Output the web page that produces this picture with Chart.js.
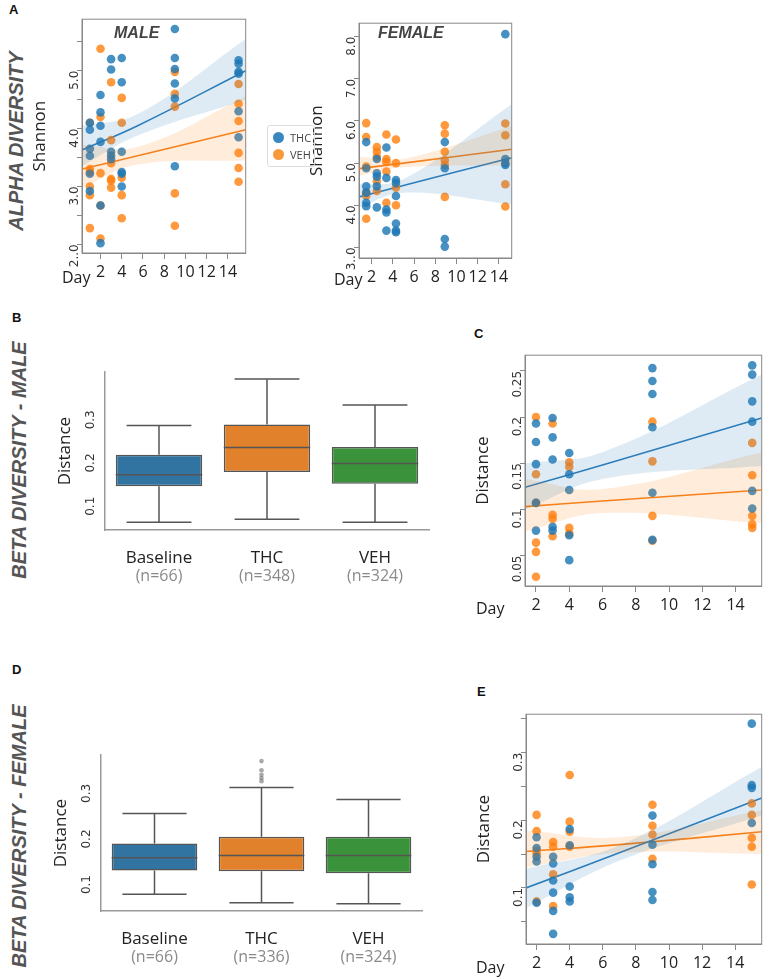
<!DOCTYPE html>
<html>
<head>
<meta charset="utf-8">
<script src="https://cdn.jsdelivr.net/npm/chart.js@4/dist/chart.umd.min.js"></script>
<style>
  body { margin: 0; background: #fff; font-family: "Open Sans", sans-serif; }
  #page { position: relative; width: 767px; height: 979px; overflow: hidden; }
  canvas, .txt { position: absolute; }
  .txt { white-space: nowrap; color: #222; }
  .letter { font: bold 13px "Liberation Sans", sans-serif; color: #111; }
  .row { font: italic bold 20px "Liberation Sans", sans-serif; color: #555; transform: translate(-50%, -50%) rotate(-90deg); }
  .day { font-size: 16px; }
  .ttl { font: italic bold 16px "Liberation Sans", sans-serif; color: #444; }
</style>
</head>
<body>
<div id="page">
  <canvas id="cMale"></canvas>
  <canvas id="cFemale"></canvas>
  <canvas id="cB"></canvas>
  <canvas id="cC"></canvas>
  <canvas id="cD"></canvas>
  <canvas id="cE"></canvas>

  <div class="txt letter" style="left:9px;top:2px">A</div>
  <div class="txt letter" style="left:12px;top:310px">B</div>
  <div class="txt letter" style="left:474px;top:326px">C</div>
  <div class="txt letter" style="left:12px;top:662px">D</div>
  <div class="txt letter" style="left:477px;top:684px">E</div>

  <div class="txt row" style="left:16px;top:141px">ALPHA DIVERSITY</div>
  <div class="txt row" style="left:19px;top:460px">BETA DIVERSITY - MALE</div>
  <div class="txt row" style="left:19px;top:836px">BETA DIVERSITY - FEMALE</div>

  <div class="txt ttl" style="left:114px;top:24px">MALE</div>
  <div class="txt ttl" style="left:378px;top:24px">FEMALE</div>

  <div class="txt day" style="left:62px;top:266px">Day</div>
  <div class="txt day" style="left:334px;top:268px">Day</div>
  <div class="txt day" style="left:476px;top:597px">Day</div>
  <div class="txt day" style="left:476px;top:956px">Day</div>

  <div class="txt" style="left:267px;top:125px;width:46px;height:40px;border:1px solid #ddd;border-radius:3px;font-size:11px;color:#444">
    <div style="position:absolute;left:5px;top:6px;width:11px;height:11px;border-radius:50%;background:#3a87c0"></div>
    <div style="position:absolute;left:22px;top:4px">THC</div>
    <div style="position:absolute;left:5px;top:23px;width:11px;height:11px;border-radius:50%;background:#f89a3c"></div>
    <div style="position:absolute;left:22px;top:21px">VEH</div>
  </div>
</div>

<script>
// ---------- data ----------
var maleDays = [1, 2, 3, 4, 9, 15];
var maleThc = [
    [4.1, 3.98, 3.65, 3.53, 3.22, 2.92],
    [4.58, 4.28, 4.05, 3.77, 2.67, 2.02],
    [5.2, 5.02, 3.6, 3.53, 3.47],
    [5.22, 4.8, 3.6, 3.25, 3.22, 3.0],
    [5.72, 5.22, 5.03, 4.78, 4.52, 3.35],
    [5.18, 5.12, 4.98, 4.95, 4.3, 3.85]
];
var maleVeh = [
    [4.1, 3.3, 3.25, 3.0, 2.85, 2.28],
    [5.38, 4.2, 3.23, 2.67, 2.1],
    [4.8, 3.8, 3.4, 3.13, 3.1, 2.98],
    [4.53, 4.1, 3.15, 2.85, 2.45],
    [4.98, 4.6, 4.38, 2.88, 2.32],
    [4.77, 4.43, 4.13, 3.58, 3.32, 3.08]
];
var maleFitX = [0.26, 5.5, 15.67];
var maleThcFit = [3.63, 4.05, 5.0];
var maleThcUpper = [4.05, 4.25, 5.55];
var maleThcLower = [3.35, 3.88, 4.5];
var maleVehFit = [3.3, 3.53, 3.98];
var maleVehUpper = [3.72, 3.68, 4.55];
var maleVehLower = [2.98, 3.38, 3.45];

var femaleDays = [1.5, 2.5, 3.4, 4.3, 8.9, 14.6];
var femaleThc = [
    [5.5, 4.88, 4.45, 4.3, 4.06, 3.98],
    [5.1, 4.76, 4.68, 4.45, 3.95],
    [5.37, 4.65, 3.9, 3.83, 3.4],
    [4.6, 4.53, 4.22, 3.57, 3.4, 3.36],
    [5.5, 4.88, 3.2, 3.02],
    [8.06, 5.1, 5.0, 4.96]
];
var femaleVeh = [
    [5.95, 5.62, 4.92, 4.3, 4.22, 3.68],
    [5.38, 5.27, 5.15, 4.57, 4.34],
    [5.68, 5.1, 5.03, 4.8, 4.06],
    [5.56, 5.0, 4.42, 4.0],
    [5.9, 5.7, 5.27, 5.07, 4.96, 4.2],
    [5.94, 5.66, 4.5, 3.97]
];
var femaleFitX = [0.82, 5, 15.2];
var femaleThcFit = [4.2, 4.47, 5.13];
var femaleThcUpper = [4.5, 4.62, 6.4];
var femaleThcLower = [3.95, 4.3, 4.02];
var femaleVehFit = [4.87, 5.0, 5.33];
var femaleVehUpper = [5.15, 5.1, 5.88];
var femaleVehLower = [4.7, 4.9, 4.95];

var betaDays = [2, 3, 4, 9, 15];
var cThc = [
    [0.193, 0.173, 0.149, 0.107, 0.077],
    [0.199, 0.178, 0.154, 0.081, 0.077],
    [0.161, 0.138, 0.121, 0.072, 0.045],
    [0.253, 0.239, 0.225, 0.189, 0.118, 0.067],
    [0.256, 0.246, 0.217, 0.195, 0.12, 0.101]
];
var cVeh = [
    [0.2, 0.138, 0.107, 0.064, 0.054, 0.027],
    [0.193, 0.094, 0.09, 0.071],
    [0.151, 0.146, 0.08, 0.074],
    [0.195, 0.152, 0.093, 0.066],
    [0.172, 0.137, 0.093, 0.084, 0.08]
];
var cFitX = [1.34, 6, 15.57];
var cThcFit = [0.124, 0.148, 0.199];
var cThcUpper = [0.15, 0.162, 0.246];
var cThcLower = [0.1, 0.133, 0.147];
var cVehFit = [0.103, 0.109, 0.121];
var cVehUpper = [0.133, 0.122, 0.162];
var cVehLower = [0.076, 0.096, 0.085];

var eThc = [
    [0.175, 0.159, 0.146, 0.139, 0.078],
    [0.146, 0.136, 0.111, 0.093, 0.066, 0.032],
    [0.187, 0.163, 0.102, 0.086, 0.08],
    [0.207, 0.164, 0.135, 0.094, 0.082],
    [0.343, 0.252, 0.248, 0.196]
];
var eVeh = [
    [0.208, 0.184, 0.155, 0.151, 0.08],
    [0.168, 0.161, 0.12, 0.073],
    [0.267, 0.198, 0.183, 0.161],
    [0.223, 0.192, 0.179, 0.143],
    [0.225, 0.208, 0.174, 0.161, 0.105]
];
var eFitX = [1.36, 7, 15.6];
var eThcFit = [0.1, 0.152, 0.233];
var eThcUpper = [0.128, 0.163, 0.279];
var eThcLower = [0.07, 0.14, 0.207];
var eVehFit = [0.154, 0.164, 0.183];
var eVehUpper = [0.185, 0.175, 0.215];
var eVehLower = [0.13, 0.152, 0.15];

var dayTicks = [2, 4, 6, 8, 10, 12, 14];

var groups = ["Baseline", "THC", "VEH"];
var bCounts = ["(n=66)", "(n=348)", "(n=324)"];
var bMin = [0.041, 0.048, 0.041];
var bQ1 = [0.124, 0.157, 0.13];
var bMed = [0.151, 0.214, 0.177];
var bQ3 = [0.197, 0.267, 0.215];
var bMax = [0.265, 0.372, 0.312];

var dCounts = ["(n=66)", "(n=336)", "(n=324)"];
var dMin = [0.058, 0.039, 0.037];
var dQ1 = [0.11, 0.108, 0.104];
var dMed = [0.138, 0.143, 0.143];
var dQ3 = [0.169, 0.184, 0.184];
var dMax = [0.235, 0.292, 0.266];
var dOutliers = [0.35, 0.33, 0.32, 0.313, 0.306];

// ---------- helpers ----------
var BLUE = "rgba(31,119,180,0.82)";
var ORANGE = "rgba(255,127,14,0.8)";
var BOX_COLORS = ["#3274a1", "#e1812c", "#3a923a"];

function place(id, left, top, w, h) {
    var c = document.getElementById(id);
    c.style.left = left + "px";
    c.style.top = top + "px";
    c.width = w;
    c.height = h;
    return c;
}

function points(days, groupsOfValues) {
    var out = [];
    groupsOfValues.forEach(function (vals, i) {
        vals.forEach(function (v) { out.push({ x: days[i], y: v }); });
    });
    return out;
}

function pairs(xs, ys) {
    return xs.map(function (x, i) { return { x: x, y: ys[i] }; });
}

var frame = {
    id: "frame",
    afterDraw: function (chart) {
        var a = chart.chartArea, ctx = chart.ctx;
        ctx.save();
        ctx.strokeStyle = "#888";
        ctx.lineWidth = 1;
        ctx.strokeRect(a.left, a.top, a.right - a.left, a.bottom - a.top);
        ctx.restore();
    }
};

function scatterPanel(canvas, o) {
    var ds = [
        { type: "line", data: pairs(o.fitX, o.thcUpper), borderWidth: 0, pointRadius: 0, tension: 0.4, fill: "+1", backgroundColor: "rgba(31,119,180,0.15)" },
        { type: "line", data: pairs(o.fitX, o.thcLower), borderWidth: 0, pointRadius: 0, tension: 0.4, fill: false },
        { type: "line", data: pairs(o.fitX, o.vehUpper), borderWidth: 0, pointRadius: 0, tension: 0.4, fill: "+1", backgroundColor: "rgba(255,127,14,0.15)" },
        { type: "line", data: pairs(o.fitX, o.vehLower), borderWidth: 0, pointRadius: 0, tension: 0.4, fill: false },
        { type: "scatter", data: points(o.days, o.thc), backgroundColor: BLUE, borderWidth: 0, pointRadius: 4.3 },
        { type: "scatter", data: points(o.days, o.veh), backgroundColor: ORANGE, borderWidth: 0, pointRadius: 4.3 },
        { type: "line", data: pairs(o.fitX, o.thcFit), borderColor: "#2f7ebc", borderWidth: 1.6, pointRadius: 0, tension: 0.4 },
        { type: "line", data: pairs(o.fitX, o.vehFit), borderColor: "#f5821f", borderWidth: 1.6, pointRadius: 0, tension: 0.4 }
    ];
    return new Chart(canvas, {
        type: "scatter",
        data: { datasets: ds },
        options: {
            animation: false,
            responsive: false,
            layout: { padding: { top: 5, right: o.padRight || 2 } },
            plugins: { legend: { display: false }, tooltip: { enabled: false } },
            scales: {
                x: {
                    type: "linear", min: o.xMin, max: o.xMax,
                    afterBuildTicks: function (s) { s.ticks = dayTicks.map(function (v) { return { value: v }; }); },
                    afterFit: function (s) { s.height = 35; },
                    grid: { drawOnChartArea: false, tickLength: 6, color: "#888" },
                    border: { color: "#888" },
                    ticks: { padding: 4, color: "#222", font: { family: "Open Sans", size: 16 }, maxRotation: 0 }
                },
                y: {
                    min: o.yMin, max: o.yMax,
                    afterBuildTicks: function (s) { s.ticks = o.yTicks.map(function (v) { return { value: v }; }); },
                    afterFit: function (s) { s.width = 52; },
                    grid: { drawOnChartArea: false, tickLength: 5, color: "#888" },
                    border: { color: "#888" },
                    title: { display: true, text: o.yTitle, color: "#222", font: { family: "Open Sans", size: 17 }, padding: 0 },
                    ticks: {
                        minRotation: 90, maxRotation: 90, padding: 2, color: "#333",
                        font: { family: "DejaVu Sans", size: 12 },
                        callback: function (v) { return o.yLabel(v); }
                    }
                }
            }
        },
        plugins: [frame]
    });
}

var boxDraw = {
    id: "boxDraw",
    afterDatasetsDraw: function (chart) {
        var o = chart.options.plugins.boxDraw, ctx = chart.ctx;
        var xs = chart.scales.x, ys = chart.scales.y;
        var meta = chart.getDatasetMeta(0);
        ctx.save();
        ctx.strokeStyle = "#555";
        ctx.lineWidth = 1.5;
        meta.data.forEach(function (bar, i) {
            var cx = xs.getPixelForValue(i), half = bar.width / 2, cap = bar.width / 4;
            var yMin = ys.getPixelForValue(o.min[i]), yMax = ys.getPixelForValue(o.max[i]);
            var yQ1 = ys.getPixelForValue(o.q1[i]), yQ3 = ys.getPixelForValue(o.q3[i]);
            var yMed = ys.getPixelForValue(o.med[i]);
            ctx.beginPath();
            ctx.moveTo(cx, yQ3); ctx.lineTo(cx, yMax);
            ctx.moveTo(cx - cap * 1.5, yMax); ctx.lineTo(cx + cap * 1.5, yMax);
            ctx.moveTo(cx, yQ1); ctx.lineTo(cx, yMin);
            ctx.moveTo(cx - cap * 1.5, yMin); ctx.lineTo(cx + cap * 1.5, yMin);
            ctx.moveTo(cx - half, yMed); ctx.lineTo(cx + half, yMed);
            ctx.stroke();
        });
        // sample counts under the category names
        ctx.fillStyle = "#8a8a8a";
        ctx.font = "16px 'Open Sans'";
        ctx.textAlign = "center";
        ctx.textBaseline = "middle";
        o.counts.forEach(function (t, i) {
            ctx.fillText(t, xs.getPixelForValue(i), xs.bottom - 14);
        });
        ctx.restore();
    }
};

function boxPanel(canvas, o) {
    var ds = [{
        type: "bar",
        data: o.q1.map(function (q, i) { return [q, o.q3[i]]; }),
        backgroundColor: BOX_COLORS,
        borderColor: "#555",
        borderWidth: 1.5,
        borderSkipped: false,
        barPercentage: 0.8,
        categoryPercentage: 1
    }];
    if (o.outliers) {
        ds.push({
            type: "line", showLine: false,
            data: o.outliers.map(function (v) { return { x: "THC", y: v }; }),
            pointRadius: 2.3, backgroundColor: "rgba(110,110,110,0.6)", borderWidth: 0
        });
    }
    return new Chart(canvas, {
        type: "bar",
        data: { labels: groups, datasets: ds },
        options: {
            animation: false,
            responsive: false,
            layout: { padding: { top: 5, right: 2 } },
            plugins: {
                legend: { display: false }, tooltip: { enabled: false },
                boxDraw: { min: o.min, q1: o.q1, med: o.med, q3: o.q3, max: o.max, counts: o.counts }
            },
            scales: {
                x: {
                    afterFit: function (s) { s.height = 60; },
                    grid: { display: false },
                    border: { color: "#999", width: 1.5 },
                    ticks: { padding: 10, color: "#222", font: { family: "Open Sans", size: 17 } }
                },
                y: {
                    min: o.yMin, max: o.yMax,
                    afterBuildTicks: function (s) { s.ticks = [0.1, 0.2, 0.3].map(function (v) { return { value: v }; }); },
                    afterFit: function (s) { s.width = 50; },
                    grid: { display: false },
                    border: { color: "#999", width: 1.5 },
                    title: { display: true, text: "Distance", color: "#222", font: { family: "Open Sans", size: 17 }, padding: 0 },
                    ticks: { minRotation: 90, maxRotation: 90, padding: 6, color: "#333", font: { family: "DejaVu Sans", size: 12 } }
                }
            }
        },
        plugins: [boxDraw]
    });
}

// ---------- charts ----------
function shannonLabel(v) {
    if (v % 1 !== 0) return "";
    return v === 2 ? "2..0" : v.toFixed(1);
}
function femaleLabel(v) {
    if (v % 1 !== 0) return "";
    return v === 3 ? "3..0" : v.toFixed(1);
}

scatterPanel(place("cMale", 30, 10, 220, 278), {
    days: maleDays, thc: maleThc, veh: maleVeh,
    fitX: maleFitX, thcFit: maleThcFit, thcUpper: maleThcUpper, thcLower: maleThcLower,
    vehFit: maleVehFit, vehUpper: maleVehUpper, vehLower: maleVehLower,
    xMin: 0.26, xMax: 15.67, yMin: 1.85, yMax: 5.89,
    yTicks: [2, 2.5, 3, 3.5, 4, 4.5, 5, 5.5], yLabel: shannonLabel, yTitle: "Shannon"
});

scatterPanel(place("cFemale", 307, 14, 209, 279), {
    days: femaleDays, thc: femaleThc, veh: femaleVeh,
    fitX: femaleFitX, thcFit: femaleThcFit, thcUpper: femaleThcUpper, thcLower: femaleThcLower,
    vehFit: femaleVehFit, vehUpper: femaleVehUpper, vehLower: femaleVehLower,
    xMin: 0.82, xMax: 15.2, yMin: 2.75, yMax: 8.32,
    yTicks: [3, 3.5, 4, 4.5, 5, 5.5, 6, 6.5, 7, 7.5, 8], yLabel: femaleLabel, yTitle: "Shannon"
});

scatterPanel(place("cC", 473, 346, 293, 275), {
    days: betaDays, thc: cThc, veh: cVeh,
    fitX: cFitX, thcFit: cThcFit, thcUpper: cThcUpper, thcLower: cThcLower,
    vehFit: cVehFit, vehUpper: cVehUpper, vehLower: cVehLower,
    xMin: 1.34, xMax: 15.57, yMin: 0.017, yMax: 0.267, padRight: 3,
    yTicks: [0.05, 0.1, 0.15, 0.2, 0.25],
    yLabel: function (v) { return String(Math.round(v * 100) / 100); }, yTitle: "Distance"
});

scatterPanel(place("cE", 474, 705, 292, 274), {
    days: betaDays, thc: eThc, veh: eVeh,
    fitX: eFitX, thcFit: eThcFit, thcUpper: eThcUpper, thcLower: eThcLower,
    vehFit: eVehFit, vehUpper: eVehUpper, vehLower: eVehLower,
    xMin: 1.36, xMax: 15.6, yMin: 0.017, yMax: 0.357, padRight: 3,
    yTicks: [0.05, 0.1, 0.15, 0.2, 0.25, 0.3, 0.35],
    yLabel: function (v) { var r = Math.round(v * 100); return r % 10 === 0 ? String(r / 100) : ""; }, yTitle: "Distance"
});

boxPanel(place("cB", 55, 359, 376, 231), {
    min: bMin, q1: bQ1, med: bMed, q3: bQ3, max: bMax, counts: bCounts,
    yMin: 0.023, yMax: 0.388
});

boxPanel(place("cD", 51, 742, 375, 229), {
    min: dMin, q1: dQ1, med: dMed, q3: dQ3, max: dMax, counts: dCounts, outliers: dOutliers,
    yMin: 0.021, yMax: 0.363
});
</script>
</body>
</html>
